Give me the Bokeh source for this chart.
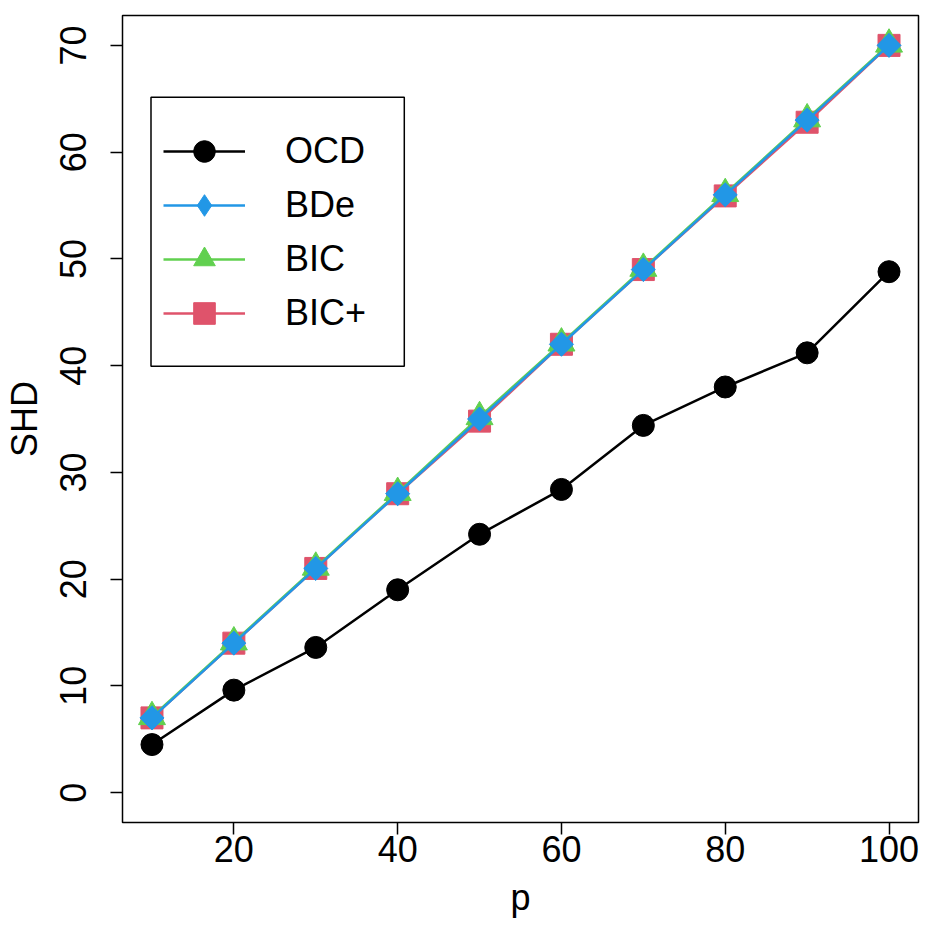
import math
from bokeh.plotting import figure
from bokeh.models import Legend, LegendItem, BoxAnnotation, FixedTicker, Range1d
from bokeh.embed import file_html
from bokeh.resources import INLINE

p_vals = [10, 20, 30, 40, 50, 60, 70, 80, 90, 100]
ocd = [4.5, 9.6, 13.6, 19.0, 24.2, 28.4, 34.4, 38.0, 41.2, 48.8]
bde = [7, 14, 21, 28, 35, 42, 49, 56, 63, 70]
bic = [7.1, 14.1, 21.1, 28.1, 35.2, 42.1, 49.1, 56.1, 63.1, 70.1]
bicp = [7, 14, 21, 28, 34.8, 42, 49, 55.9, 62.8, 70]
x_ticks = [20, 40, 60, 80, 100]
y_ticks = [0, 10, 20, 30, 40, 50, 60, 70]

FONT = "Liberation Sans"
BLACK, BLUE, GREEN, RED = "#000000", "#2297E6", "#61D04F", "#DF536B"

p = figure(width=926, height=932, output_backend="svg", toolbar_location=None,
           x_range=Range1d(6.4, 103.6), y_range=Range1d(-2.8, 72.8),
           min_border_left=122, min_border_right=8, min_border_top=15, min_border_bottom=110)
p.xgrid.visible = False
p.ygrid.visible = False
p.outline_line_color = "black"
p.outline_line_width = 1.5
p.background_fill_color = "white"
p.border_fill_color = "white"

for ax in (p.xaxis[0], p.yaxis[0]):
    ax.axis_line_color = None
    ax.major_tick_out = 12
    ax.major_tick_in = 0
    ax.minor_tick_line_color = None
    ax.major_tick_line_width = 1.5
    ax.major_label_text_font = FONT
    ax.major_label_text_font_size = "36px"
    ax.major_label_text_color = "black"
    ax.axis_label_text_font = FONT
    ax.axis_label_text_font_size = "36px"
    ax.axis_label_text_font_style = "normal"
    ax.axis_label_text_color = "black"

p.xaxis.ticker = FixedTicker(ticks=x_ticks)
p.yaxis.ticker = FixedTicker(ticks=y_ticks)
p.xaxis.axis_label = "p"
p.yaxis.axis_label = "SHD"
p.yaxis.major_label_orientation = "vertical"
p.xaxis.major_label_standoff = 1
p.yaxis.major_label_standoff = 24
p.xaxis.axis_label_standoff = 12
p.yaxis.axis_label_standoff = 13

lw = 2.5
l_r = p.line(p_vals, bicp, line_color=RED, line_width=lw)
s_r = p.scatter(p_vals, bicp, marker="square", size=22, fill_color=RED, line_color=RED)
l_g = p.line(p_vals, bic, line_color=GREEN, line_width=lw)
s_g = p.scatter(p_vals, bic, marker="triangle", size=27, fill_color=GREEN, line_color=GREEN)
l_b = p.line(p_vals, bde, line_color=BLUE, line_width=lw)
# diamond renderer (used for the legend swatch), covered by the rotated squares below
s_b_leg = p.scatter(p_vals, bde, marker="diamond", size=23, fill_color=BLUE, line_color=BLUE)
s_b = p.scatter(p_vals, bde, marker="square", angle=math.pi / 4, size=17,
                fill_color=BLUE, line_color=BLUE)
l_k = p.line(p_vals, ocd, line_color=BLACK, line_width=lw)
s_k = p.scatter(p_vals, ocd, marker="circle", size=22, fill_color=BLACK, line_color=BLACK)

box = BoxAnnotation(left=9.88, right=40.81, top=65.13, bottom=39.94,
                    fill_color="white", fill_alpha=1.0, line_color="black",
                    line_alpha=1.0, line_width=1.5, level="overlay")
p.add_layout(box)

legend = Legend(items=[
    LegendItem(label="OCD", renderers=[l_k, s_k]),
    LegendItem(label="BDe", renderers=[l_b, s_b_leg]),
    LegendItem(label="BIC", renderers=[l_g, s_g]),
    LegendItem(label="BIC+", renderers=[l_r, s_r]),
], location=(41, 482), border_line_color=None, background_fill_alpha=0.0,
   padding=12, spacing=0, label_height=54, glyph_height=54, glyph_width=82,
   label_standoff=40, label_text_font=FONT, label_text_font_size="36px",
   label_text_color="black", label_text_baseline="middle", margin=0)
p.add_layout(legend, "center")

open("out.html", "w").write(file_html(p, INLINE))
